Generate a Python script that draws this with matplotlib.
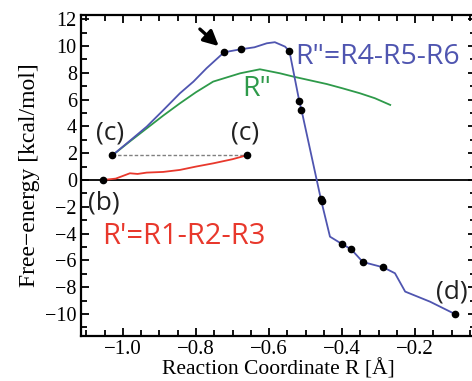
import matplotlib
matplotlib.use("Agg")
import matplotlib.pyplot as plt
from matplotlib.ticker import MultipleLocator

# Blue curve R" = R4-R5-R6
blue_x = [-1.029, -0.98, -0.935, -0.89, -0.844, -0.807, -0.771, -0.723, -0.678, -0.64, -0.606,
          -0.584, -0.556, -0.544, -0.517, -0.511, -0.457, -0.433, -0.400, -0.375, -0.343,
          -0.287, -0.255, -0.227, -0.159, -0.091]
blue_y = [1.84, 2.95, 3.98, 5.2, 6.47, 7.34, 8.34, 9.53, 9.75, 9.9, 10.2,
          10.28, 9.95, 9.6, 5.87, 5.22, -1.54, -4.23, -4.78, -5.17, -6.12,
          -6.52, -6.96, -8.33, -9.08, -10.0]
# Black markers on the blue curve
mark_x = [-0.723, -0.678, -0.544, -0.517, -0.511, -0.457, -0.455, -0.400, -0.375, -0.343, -0.287, -0.091]
mark_y = [9.53, 9.75, 9.6, 5.87, 5.22, -1.4, -1.6, -4.78, -5.17, -6.12, -6.52, -10.0]

# Green curve R"
green_x = [-1.029, -0.98, -0.935, -0.89, -0.844, -0.80, -0.753, -0.679, -0.625, -0.570,
           -0.533, -0.49, -0.442, -0.40, -0.351, -0.31, -0.268]
green_y = [1.84, 2.9, 3.85, 4.8, 5.72, 6.55, 7.34, 7.96, 8.26, 7.96,
           7.71, 7.45, 7.16, 6.85, 6.47, 6.1, 5.6]

# Red curve R' = R1-R2-R3
red_x = [-1.055, -1.02, -0.981, -0.96, -0.935, -0.89, -0.844, -0.80, -0.753, -0.70, -0.661]
red_y = [0.0, 0.1, 0.5, 0.45, 0.55, 0.6, 0.75, 1.0, 1.24, 1.55, 1.84]

# Points (b), (c), (c)
pt_b = (-1.055, 0.0)
pt_c1 = (-1.029, 1.84)
pt_c2 = (-0.661, 1.84)
pt_d = (-0.091, -10.0)

x_ticks = [-1.0, -0.8, -0.6, -0.4, -0.2]
x_ticklabels = ["\u22121.0", "\u22120.8", "\u22120.6", "\u22120.4", "\u22120.2"]
y_ticks = [-10, -8, -6, -4, -2, 0, 2, 4, 6, 8, 10, 12]
y_ticklabels = ["\u221210", "\u22128", "\u22126", "\u22124", "\u22122", "0", "2", "4", "6", "8", "10", "12"]

fig = plt.figure(figsize=(4.72, 3.81), dpi=100)
ax = fig.add_axes([81/472, 45.3/381, 395/472, 320.7/381])
ax.set_xlim(-1.115, -0.033)
ax.set_ylim(-11.62, 12.31)

serif = "Liberation Serif"
sans = "Open Sans"

ax.axhline(0, color="black", lw=1.3, zorder=1)
ax.plot([pt_c1[0], pt_c2[0]], [pt_c1[1], pt_c2[1]], color="gray", ls=(0, (2.5, 1.5)), lw=1.0, zorder=2)
ax.plot(green_x, green_y, color="#2e9a4a", lw=1.3, zorder=3)
ax.plot(red_x, red_y, color="#e8382c", lw=1.3, zorder=3)
ax.plot(blue_x, blue_y, color="#4f55b0", lw=1.3, zorder=4)
ax.plot(mark_x, mark_y, "o", color="black", ms=4.5, zorder=5)
ax.plot([pt_b[0], pt_c1[0], pt_c2[0]], [pt_b[1], pt_c1[1], pt_c2[1]], "o", color="black", ms=4.5, zorder=5)

ax.annotate("", xy=(-0.732, 9.85), xytext=(-0.795, 11.4),
            arrowprops=dict(arrowstyle="-|>,head_length=0.9,head_width=0.45", color="black", lw=2.4))

tk = dict(fontfamily=sans, fontsize=19, color="#222222")
ax.text(-1.036, 3.5, "(c)", ha="center", va="center", **tk)
ax.text(-0.666, 3.5, "(c)", ha="center", va="center", **tk)
ax.text(-1.053, -1.75, "(b)", ha="center", va="center", **tk)
ax.text(-0.098, -8.35, "(d)", ha="center", va="center", **tk)
ax.text(-0.634, 6.8, 'R"', ha="center", va="center", fontfamily=sans, fontsize=20.5, color="#2e9a4a")
ax.text(-0.528, 9.2, 'R"=R4-R5-R6', ha="left", va="center", fontfamily=sans, fontsize=20.5, color="#4f55b0")
ax.text(-1.057, -4.25, "R'=R1-R2-R3", ha="left", va="center", fontfamily=sans, fontsize=21, color="#e8382c")

ax.set_xticks(x_ticks)
ax.set_xticklabels(x_ticklabels, fontfamily=serif, fontsize=15)
ax.set_yticks(y_ticks)
ax.set_yticklabels(y_ticklabels, fontfamily=serif, fontsize=14.5)
ax.xaxis.set_minor_locator(MultipleLocator(0.05))
ax.yaxis.set_minor_locator(MultipleLocator(1))
ax.tick_params(which="both", direction="in", top=True, right=True, width=1.3)
ax.tick_params(which="major", length=6, pad=3)
ax.tick_params(which="minor", length=4)
for s in ax.spines.values():
    s.set_linewidth(1.6)

ax.set_xlabel("Reaction Coordinate R [\u00c5]", fontfamily=serif, fontsize=15.5, labelpad=0)
ax.set_ylabel("Free\u2212energy [kcal/mol]", fontfamily=serif, fontsize=17, labelpad=4)

fig.savefig("out.png", dpi=100)
